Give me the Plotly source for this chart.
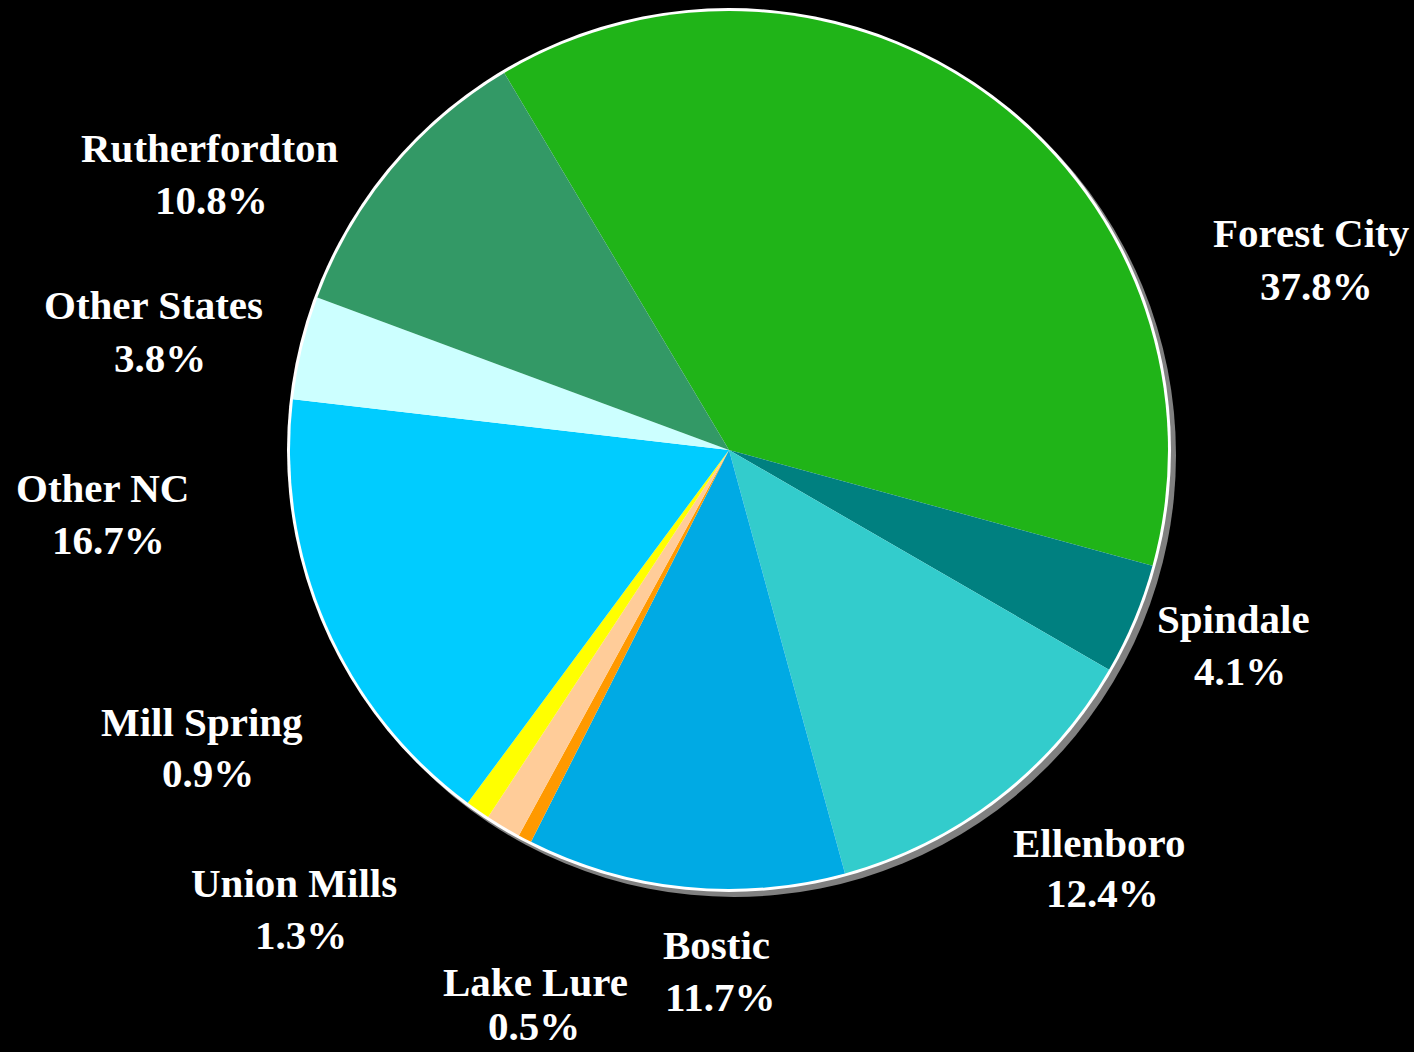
import plotly.graph_objects as go

# Share of residents by place (clockwise from Forest City)
places = ["Forest City", "Spindale", "Ellenboro", "Bostic", "Lake Lure",
          "Union Mills", "Mill Spring", "Other NC", "Other States", "Rutherfordton"]
shares = [37.8, 4.1, 12.4, 11.7, 0.5, 1.3, 0.9, 16.7, 3.8, 10.8]
slice_colors = ["#20B418", "#008080", "#33CCCC", "#00AAE4", "#FF9900",
                "#FFCC99", "#FFFF00", "#00CCFF", "#CCFFFF", "#339966"]

# Label line centres in pixels (x, y from top): place name, then percentage
name_pos = [(1311, 233), (1233, 619), (1099, 843), (716, 945), (535, 982),
            (294, 883), (202, 722), (102, 488), (153, 305), (210, 148)]
pct_pos = [(1316, 286), (1240, 671), (1102, 893), (720, 997), (534, 1026),
           (301, 935), (208, 773), (108, 540), (160, 358), (212, 200)]

W, H = 1414, 1052
cx, cy, r = 729, 450, 439


def domain(center_x, center_y, radius):
    return dict(x=[(center_x - radius) / W, (center_x + radius) / W],
                y=[1 - (center_y + radius) / H, 1 - (center_y - radius) / H])


fig = go.Figure()

# drop shadow
fig.add_trace(go.Pie(values=[1], labels=["shadow"], marker=dict(colors=["#808080"]),
                     domain=domain(cx + 5, cy + 5, r + 3), textinfo="none",
                     hoverinfo="skip", sort=False))
# white rim
fig.add_trace(go.Pie(values=[1], labels=["rim"], marker=dict(colors=["#FFFFFF"]),
                     domain=domain(cx, cy, r + 3), textinfo="none",
                     hoverinfo="skip", sort=False))
# the pie itself
fig.add_trace(go.Pie(values=shares, labels=places,
                     marker=dict(colors=slice_colors, line=dict(width=0)),
                     domain=domain(cx, cy, r), textinfo="none", sort=False,
                     direction="clockwise", rotation=-30.8))

label_font = dict(family="Liberation Serif", size=41, color="white")
for name, val, (nx, ny), (px, py) in zip(places, shares, name_pos, pct_pos):
    fig.add_annotation(x=nx / W, y=1 - ny / H, xref="paper", yref="paper",
                       text=f"<b>{name}</b>", showarrow=False,
                       xanchor="center", yanchor="middle", font=label_font)
    fig.add_annotation(x=px / W, y=1 - py / H, xref="paper", yref="paper",
                       text=f"<b>{val:.1f}%</b>", showarrow=False,
                       xanchor="center", yanchor="middle", font=label_font)

fig.update_layout(width=W, height=H, margin=dict(l=0, r=0, t=0, b=0),
                  paper_bgcolor="black", plot_bgcolor="black", showlegend=False)

fig.write_html("out.html")
